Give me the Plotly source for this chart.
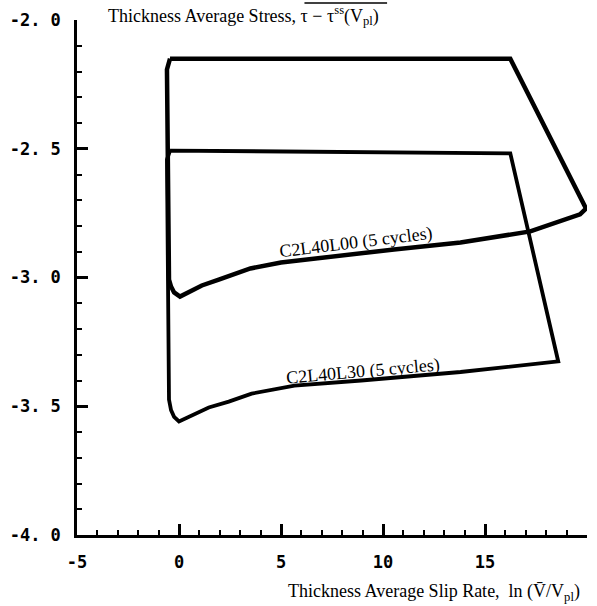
import plotly.graph_objects as go

# ---- data ----
l00_x = [-0.44, 16.24, 19.95, 19.66, 17.22, 14.78, 13.80, 10.54, 7.32, 5.00, 3.50, 2.50, 1.95, 1.12,
         0.34, 0.05, -0.24, -0.39, -0.49, -0.59, -0.44]
l00_y = [-2.150, -2.150, -2.732, -2.755, -2.821, -2.852, -2.864, -2.891, -2.922, -2.942, -2.965, -2.990,
         -3.008, -3.031, -3.062, -3.074, -3.058, -3.035, -3.008, -2.192, -2.150]

l30_x = [-0.44, 16.24, 18.59, 14.78, 13.80, 8.93, 5.66, 3.56, 2.44, 1.46, 0.78, 0.29, 0.00, -0.24,
         -0.39, -0.49, -0.59, -0.44]
l30_y = [-2.507, -2.518, -3.326, -3.357, -3.367, -3.400, -3.420, -3.451, -3.482, -3.505, -3.532, -3.551,
         -3.559, -3.541, -3.515, -3.474, -2.542, -2.507]

label_l00 = "C2L40L00 (5 cycles)"
label_l30 = "C2L40L30 (5 cycles)"

x_ticks = [-5, 0, 5, 10, 15, 20]
x_ticktext = ["-5", "0", "5", "10", "15", "20"]
y_ticks = [-4.0, -3.5, -3.0, -2.5, -2.0]
y_ticktext = ["-4. 0", "-3. 5", "-3. 0", "-2. 5", "-2. 0"]

serif = "Liberation Serif"

fig = go.Figure()
fig.add_trace(go.Scatter(x=l00_x, y=l00_y, mode="lines",
                         line=dict(color="black", width=4.5), showlegend=False, hoverinfo="skip"))
fig.add_trace(go.Scatter(x=l30_x, y=l30_y, mode="lines",
                         line=dict(color="black", width=3.8), showlegend=False, hoverinfo="skip"))

fig.add_annotation(x=8.68, y=-2.864, text=label_l00, showarrow=False, textangle=-7,
                   font=dict(family=serif, size=18, color="black"))
fig.add_annotation(x=9.02, y=-3.365, text=label_l30, showarrow=False, textangle=-5,
                   font=dict(family=serif, size=18, color="black"))

# axis titles
fig.add_annotation(xref="paper", yref="paper", x=0.056, y=1.0097, xanchor="left", yanchor="middle",
                   text="Thickness Average Stress, τ − τ<sup>ss</sup>(V<sub>pl</sub>)", showarrow=False,
                   font=dict(family=serif, size=18, color="black"))
fig.add_shape(type="line", xref="paper", yref="paper", x0=0.446, x1=0.608, y0=1.033, y1=1.033,
              line=dict(color="black", width=1.5))
fig.add_annotation(xref="paper", yref="paper", x=0.990, y=-0.111, xanchor="right", yanchor="middle",
                   text="Thickness Average Slip Rate,  ln (V\u0304/V<sub>pl</sub>)", showarrow=False,
                   font=dict(family=serif, size=18, color="black"))

tickfont = dict(family="DejaVu Sans Mono", size=17, color="black", weight="bold")
common = dict(showline=True, linecolor="black", linewidth=2.5, mirror=False, showgrid=False,
              zeroline=False, ticks="inside", ticklen=11, tickwidth=2.5, tickcolor="black",
              tickfont=tickfont, tickmode="array", ticklabelstandoff=10)

fig.update_xaxes(range=[-5, 20], tickvals=x_ticks, ticktext=x_ticktext,
                 minor=dict(ticks="inside", dtick=1, tick0=0, ticklen=5, tickwidth=2, tickcolor="black"),
                 **common)
fig.update_yaxes(range=[-4, -2], tickvals=y_ticks, ticktext=y_ticktext,
                 minor=dict(ticks="inside", dtick=0.1, tick0=-4, ticklen=5, tickwidth=2, tickcolor="black"),
                 **common)

fig.update_layout(width=597, height=606, margin=dict(l=75, r=10, t=20, b=71),
                  plot_bgcolor="white", paper_bgcolor="white")

fig.write_html("out.html", config={"displayModeBar": False},
               post_script="document.body.style.margin='0';")
